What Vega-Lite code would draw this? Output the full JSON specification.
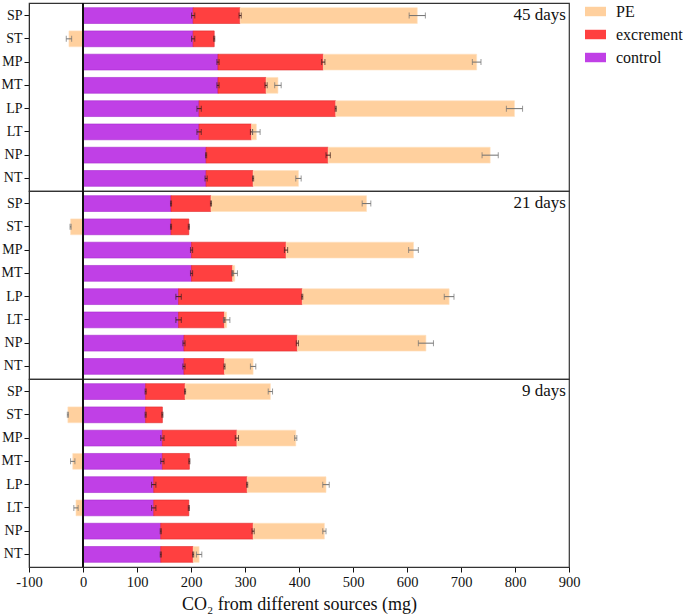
{
  "$schema": "https://vega.github.io/schema/vega-lite/v6.json",
  "padding": {"left": 1, "top": 1, "right": 0, "bottom": 0},
  "background": "white",
  "bounds": "flush",
  "config": {
    "font": "Liberation Serif",
    "view": {"stroke": "#333", "strokeWidth": 1.2},
    "axis": {"labelFont": "Liberation Serif", "titleFont": "Liberation Serif", "labelColor": "#111", "titleColor": "#111", "domainColor": "#111", "tickColor": "#111", "grid": false},
    "legend": {"labelFont": "Liberation Serif"},
    "header": {"labelPadding": 0, "titlePadding": 0}
  },
  "data": {"values": [
    {"day": "45 days", "treat": "SP", "source": "control", "value": 204, "err": 3},
    {"day": "45 days", "treat": "SP", "source": "excrement", "value": 87, "err": 2},
    {"day": "45 days", "treat": "SP", "source": "PE", "value": 328, "err": 15},
    {"day": "45 days", "treat": "ST", "source": "control", "value": 204, "err": 3},
    {"day": "45 days", "treat": "ST", "source": "excrement", "value": 39, "err": 1},
    {"day": "45 days", "treat": "ST", "source": "PE", "value": -26, "err": 5},
    {"day": "45 days", "treat": "MP", "source": "control", "value": 250, "err": 2},
    {"day": "45 days", "treat": "MP", "source": "excrement", "value": 195, "err": 3},
    {"day": "45 days", "treat": "MP", "source": "PE", "value": 284, "err": 8},
    {"day": "45 days", "treat": "MT", "source": "control", "value": 250, "err": 2},
    {"day": "45 days", "treat": "MT", "source": "excrement", "value": 89, "err": 2},
    {"day": "45 days", "treat": "MT", "source": "PE", "value": 22, "err": 6},
    {"day": "45 days", "treat": "LP", "source": "control", "value": 215, "err": 4},
    {"day": "45 days", "treat": "LP", "source": "excrement", "value": 253, "err": 1},
    {"day": "45 days", "treat": "LP", "source": "PE", "value": 331, "err": 15},
    {"day": "45 days", "treat": "LT", "source": "control", "value": 215, "err": 4},
    {"day": "45 days", "treat": "LT", "source": "excrement", "value": 97, "err": 2},
    {"day": "45 days", "treat": "LT", "source": "PE", "value": 9, "err": 7},
    {"day": "45 days", "treat": "NP", "source": "control", "value": 228, "err": 1},
    {"day": "45 days", "treat": "NP", "source": "excrement", "value": 226, "err": 4},
    {"day": "45 days", "treat": "NP", "source": "PE", "value": 300, "err": 15},
    {"day": "45 days", "treat": "NT", "source": "control", "value": 228, "err": 2},
    {"day": "45 days", "treat": "NT", "source": "excrement", "value": 87, "err": 1},
    {"day": "45 days", "treat": "NT", "source": "PE", "value": 84, "err": 5},
    {"day": "21 days", "treat": "SP", "source": "control", "value": 163, "err": 1},
    {"day": "21 days", "treat": "SP", "source": "excrement", "value": 74, "err": 1},
    {"day": "21 days", "treat": "SP", "source": "PE", "value": 288, "err": 8},
    {"day": "21 days", "treat": "ST", "source": "control", "value": 163, "err": 1},
    {"day": "21 days", "treat": "ST", "source": "excrement", "value": 33, "err": 1},
    {"day": "21 days", "treat": "ST", "source": "PE", "value": -23, "err": 1},
    {"day": "21 days", "treat": "MP", "source": "control", "value": 201, "err": 2},
    {"day": "21 days", "treat": "MP", "source": "excrement", "value": 175, "err": 3},
    {"day": "21 days", "treat": "MP", "source": "PE", "value": 236, "err": 9},
    {"day": "21 days", "treat": "MT", "source": "control", "value": 201, "err": 2},
    {"day": "21 days", "treat": "MT", "source": "excrement", "value": 76, "err": 1},
    {"day": "21 days", "treat": "MT", "source": "PE", "value": 4, "err": 5},
    {"day": "21 days", "treat": "LP", "source": "control", "value": 177, "err": 5},
    {"day": "21 days", "treat": "LP", "source": "excrement", "value": 229, "err": 1},
    {"day": "21 days", "treat": "LP", "source": "PE", "value": 272, "err": 9},
    {"day": "21 days", "treat": "LT", "source": "control", "value": 177, "err": 5},
    {"day": "21 days", "treat": "LT", "source": "excrement", "value": 85, "err": 1},
    {"day": "21 days", "treat": "LT", "source": "PE", "value": 4, "err": 6},
    {"day": "21 days", "treat": "NP", "source": "control", "value": 187, "err": 2},
    {"day": "21 days", "treat": "NP", "source": "excrement", "value": 210, "err": 2},
    {"day": "21 days", "treat": "NP", "source": "PE", "value": 238, "err": 14},
    {"day": "21 days", "treat": "NT", "source": "control", "value": 187, "err": 2},
    {"day": "21 days", "treat": "NT", "source": "excrement", "value": 75, "err": 1},
    {"day": "21 days", "treat": "NT", "source": "PE", "value": 53, "err": 5},
    {"day": "9 days", "treat": "SP", "source": "control", "value": 116, "err": 1},
    {"day": "9 days", "treat": "SP", "source": "excrement", "value": 73, "err": 1},
    {"day": "9 days", "treat": "SP", "source": "PE", "value": 158, "err": 4},
    {"day": "9 days", "treat": "ST", "source": "control", "value": 116, "err": 1},
    {"day": "9 days", "treat": "ST", "source": "excrement", "value": 31, "err": 1},
    {"day": "9 days", "treat": "ST", "source": "PE", "value": -28, "err": 1},
    {"day": "9 days", "treat": "MP", "source": "control", "value": 147, "err": 3},
    {"day": "9 days", "treat": "MP", "source": "excrement", "value": 138, "err": 3},
    {"day": "9 days", "treat": "MP", "source": "PE", "value": 109, "err": 2},
    {"day": "9 days", "treat": "MT", "source": "control", "value": 147, "err": 3},
    {"day": "9 days", "treat": "MT", "source": "excrement", "value": 50, "err": 1},
    {"day": "9 days", "treat": "MT", "source": "PE", "value": -19, "err": 4},
    {"day": "9 days", "treat": "LP", "source": "control", "value": 131, "err": 4},
    {"day": "9 days", "treat": "LP", "source": "excrement", "value": 173, "err": 1},
    {"day": "9 days", "treat": "LP", "source": "PE", "value": 146, "err": 6},
    {"day": "9 days", "treat": "LT", "source": "control", "value": 131, "err": 4},
    {"day": "9 days", "treat": "LT", "source": "excrement", "value": 65, "err": 1},
    {"day": "9 days", "treat": "LT", "source": "PE", "value": -13, "err": 4},
    {"day": "9 days", "treat": "NP", "source": "control", "value": 144, "err": 1},
    {"day": "9 days", "treat": "NP", "source": "excrement", "value": 171, "err": 2},
    {"day": "9 days", "treat": "NP", "source": "PE", "value": 132, "err": 3},
    {"day": "9 days", "treat": "NT", "source": "control", "value": 144, "err": 1},
    {"day": "9 days", "treat": "NT", "source": "excrement", "value": 60, "err": 1},
    {"day": "9 days", "treat": "NT", "source": "PE", "value": 11, "err": 5}
  ]},
  "transform": [
    {"calculate": "indexof(['control','excrement','PE'], datum.source)", "as": "k"},
    {"stack": "value", "groupby": ["day", "treat"], "sort": [{"field": "k", "order": "ascending"}], "as": ["s0", "s1"]}
  ],
  "facet": {
    "row": {"field": "day", "type": "nominal", "sort": ["45 days", "21 days", "9 days"], "header": {"title": null, "labels": false}}
  },
  "spacing": {"row": 0},
  "spec": {
    "width": 540,
    "height": 188,
    "encoding": {
      "y": {"field": "treat", "type": "nominal", "sort": ["SP", "ST", "MP", "MT", "LP", "LT", "NP", "NT"],
        "scale": {"paddingInner": 0.32, "paddingOuter": 0.2},
        "axis": {"title": null, "labelFont": "Liberation Serif", "labelFontSize": 14, "tickSize": 5, "labelPadding": 2, "domainWidth": 1}}
    },
    "layer": [
      {
        "mark": {"type": "bar", "strokeWidth": 0.6},
        "encoding": {
          "x": {"field": "s0", "type": "quantitative", "title": "CO₂ from different sources (mg)",
            "scale": {"domain": [-100, 900], "nice": false, "zero": false},
            "axis": {"values": [-100, 0, 100, 200, 300, 400, 500, 600, 700, 800, 900], "labelExpr": "'' + datum.value", "labelFlush": false, "labelFont": "Liberation Serif", "titleFont": "Liberation Serif", "labelFontSize": 14.5, "titleFontSize": 18, "titleFontWeight": "normal", "tickSize": 5, "titlePadding": 7, "labelPadding": 3}},
          "x2": {"field": "s1", "title": "CO₂ from different sources (mg)"},
          "color": {"field": "source", "type": "nominal",
            "scale": {"domain": ["PE", "excrement", "control"], "range": ["#FFD09E", "#FF4040", "#C040E6"]},
            "legend": {"title": null, "orient": "none", "legendX": 556, "legendY": -2, "labelFontSize": 16, "labelFont": "Liberation Serif", "labelColor": "#111", "symbolType": "M-1,-0.45H1V0.45H-1Z", "symbolSize": 441, "symbolStrokeWidth": 0, "rowPadding": 4, "labelOffset": 10}},
          "stroke": {"field": "source", "type": "nominal",
            "scale": {"domain": ["PE", "excrement", "control"], "range": ["#FFE0C0", "#E02828", "#A828D0"]},
            "legend": null}
        }
      },
      {
        "mark": {"type": "rule", "color": "#111", "strokeWidth": 1},
        "encoding": {"x": {"datum": 0}, "y": null}
      },
      {
        "transform": [{"filter": "datum.source != 'PE'"}],
        "mark": {"type": "errorbar", "ticks": {"size": 6, "color": "#402020"}, "rule": {"color": "#402020"}},
        "encoding": {
          "x": {"field": "s1", "type": "quantitative", "title": "CO₂ from different sources (mg)"},
          "xError": {"field": "err"}
        }
      },
      {
        "transform": [{"filter": "datum.source == 'PE'"}],
        "mark": {"type": "errorbar", "ticks": {"size": 6, "color": "#707070"}, "rule": {"color": "#707070"}},
        "encoding": {
          "x": {"field": "s1", "type": "quantitative", "title": "CO₂ from different sources (mg)"},
          "xError": {"field": "err"}
        }
      },
      {
        "transform": [{"filter": "datum.treat == 'SP' && datum.source == 'control'"}],
        "mark": {"type": "text", "align": "right", "baseline": "middle", "fontSize": 17, "font": "Liberation Serif", "color": "#111", "dx": -3, "dy": -1},
        "encoding": {
          "x": {"datum": 900},
          "text": {"field": "day"}
        }
      }
    ]
  }
}
